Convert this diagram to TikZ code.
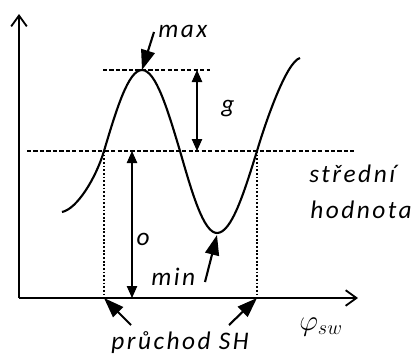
\documentclass[tikz,border=0pt]{standalone}
\usepackage{fontspec}
\setmainfont{Carlito}
\newfontfamily\lblfont[LetterSpace=10]{Carlito}
\usetikzlibrary{arrows.meta, positioning}
\tikzset{
  axisline/.style  = {line width=1.5pt, line cap=butt,
                      -{Straight Barb[length=2.7mm, width=3.9mm, line width=1.3pt]}},
  wave/.style      = {line width=1.5pt},
  levelline/.style = {line width=0.9pt, dash pattern=on 3pt off 1.6pt},
  dropline/.style  = {line width=1.1pt, dash pattern=on 1.3pt off 1.3pt},
  dimarrow/.style  = {line width=0.8pt,
                      {Triangle[length=3mm, width=2.6mm]}-{Triangle[length=3mm, width=2.6mm]}},
  pointer/.style   = {line width=1.5pt,
                      -{Triangle[length=5mm, width=3.5mm]}},
  lbl/.style       = {font=\fontsize{18}{26}\selectfont\lblfont\itshape,
                      inner sep=0pt},
}

\begin{document}
\begin{tikzpicture}[x=0.025cm, y=-0.025cm]
  \useasboundingbox (0,0) rectangle (419,356);
  % axes
  \coordinate (orig) at (19,298);
  \coordinate (ytip) at (19,14);
  \coordinate (xtip) at (358,298);
  \draw[axisline] (orig) -- (ytip);
  \draw[axisline] (orig) -- (xtip);

  % points on the wave
  \coordinate (wstart) at (62,212);
  \coordinate (cross1) at (104,151);
  \coordinate (pmax)   at (142,70);
  \coordinate (cross0) at (180,151);
  \coordinate (pmin)   at (217,233);
  \coordinate (cross2) at (257,151);
  \coordinate (wend)   at (300,58);
  \coordinate (foot1)  at (104,298);
  \coordinate (foot2)  at (257,298);

  % level lines
  \coordinate (maxl) at (103,70);
  \coordinate (maxr) at (210,70);
  \coordinate (midl) at (27,151);
  \coordinate (midr) at (354,151);
  \draw[levelline] (maxl) -- (maxr);
  \draw[levelline] (midl) -- (midr);
  \draw[dropline] (cross1) -- (foot1);
  \draw[dropline] (cross2) -- (foot2);

  \draw[wave] (wstart) .. controls (77,209) and (96,178) .. (cross1)
      sin (pmax) cos (cross0) sin (pmin) cos (cross2)
      .. controls (265,124) and (286,62) .. (wend);

  % g and o
  \coordinate (gtop) at (197,70);
  \coordinate (gbot) at (197,151);
  \coordinate (otop) at (132,151);
  \coordinate (obot) at (132,298);
  \draw[dimarrow] (gtop) -- (gbot);
  \draw[dimarrow] (otop) -- (obot);
  \node[lbl, anchor=base] (glbl) at (228,112) {g};
  \node[lbl, anchor=base] (olbl) at (143,245) {o};

  % pointers
  \node[lbl, anchor=base west] (maxlbl) at (158,37) {max};
  \coordinate (maxtail) at (154,32);
  \draw[pointer] (maxtail) -- (pmax);

  \node[lbl, anchor=base west] (minlbl) at (151,285) {min};
  \coordinate (mintail) at (205,282);
  \coordinate (mintip)  at (217,235);
  \draw[pointer] (mintail) -- (mintip);

  \node[lbl, anchor=base] (shlbl) at (180,349) {průchod SH};
  \coordinate (shtail1) at (131,325);
  \coordinate (shtail2) at (229,325);
  \draw[pointer] (shtail1) -- (foot1);
  \draw[pointer] (shtail2) -- (foot2);

  \node[lbl, anchor=base west] (midlbl) at (309,182) {střední};
  \node[lbl, anchor=base west] (hodlbl) at (310,218) {hodnota};

  \node[inner sep=0pt, anchor=base west] (philbl) at (299,330)
       {\fontsize{21}{24}\selectfont$\varphi_{sw}$};
\end{tikzpicture}
\end{document}
